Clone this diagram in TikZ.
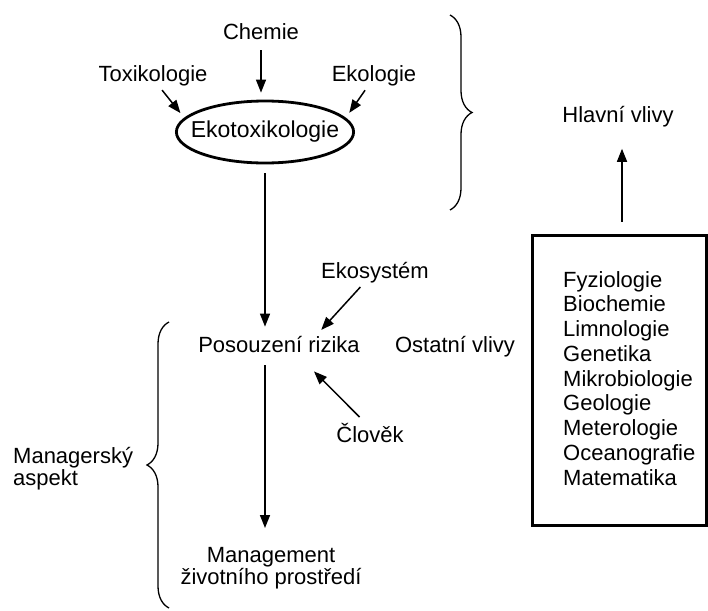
\documentclass[tikz,border=0pt]{standalone}
\usepackage{fontspec}
\setmainfont{Liberation Sans}
\usetikzlibrary{arrows.meta,shapes.geometric,decorations.pathreplacing}
\begin{document}
\begin{tikzpicture}[x=1pt,y=-1pt]
  \useasboundingbox (0,0) rectangle (708,610);

  \tikzstyle{word}=[inner sep=2pt, font=\fontsize{22}{22}\selectfont]
  \tikzstyle{link}=[line width=1.5pt, -{Triangle[length=13pt,width=10pt]}]
  \tikzstyle{klammer}=[line width=1.3pt, decorate, decoration={brace, amplitude=22pt}]

  % Obere Ebene.
  \node[word, anchor=base] (chemie) at (261, 40) {Chemie};
  \node[word, anchor=base] (toxi) at (153, 81) {Toxikologie};
  \node[word, anchor=base] (eko) at (374, 81) {Ekologie};
  \node[word, ellipse, draw, line width=2.8pt, inner xsep=-11.5pt, font=\fontsize{23}{23}\selectfont,
        minimum height=62pt] (ekotox) at (265, 132) {Ekotoxikologie};

  \draw[link, shorten <=8pt, shorten >=7pt] (chemie.south) -- (chemie.south |- ekotox.north);
  \draw[link, shorten <=3pt, shorten >=6pt] (toxi.-60) -- (ekotox.170);
  \draw[link, shorten <=3pt, shorten >=6pt] (eko.-120) -- (ekotox.10);

  % Risiko.
  \node[word, anchor=base] (riziko) at (279, 352) {Posouzení rizika};
  \node[word, anchor=base] (ekosys) at (375, 278) {Ekosystém};
  \node[word, anchor=base] (clovek) at (370, 442) {Člověk};
  \node[word, anchor=base] (ostatni) at (455, 352) {Ostatní vlivy};
  \node[word, anchor=north, align=center] (management) at (271, 545) {Management\\životního prostředí};

  \draw[link, shorten <=9pt, shorten >=7pt] (ekotox.south) -- (ekotox.south |- riziko.north);
  \draw[link, shorten <=11pt, shorten >=17pt] (ekotox.south |- riziko.south) -- (ekotox.south |- management.north);
  \draw[link, shorten <=3pt, shorten >=5pt] (ekosys.-135) -- (riziko.15);
  \draw[link, shorten <=5pt, shorten >=24pt] (clovek.120) -- (riziko.-30);

  % Klammern.
  \draw[klammer] (450, 15) -- (450, 210);
  \draw[klammer] (169, 608) -- (169, 322);
  \node[word, anchor=north west, align=left] (manager) at (11, 445) {Managerský\\aspekt};

  % Weitere Fächer.
  \node[word, anchor=base] (hlavni) at (618, 122) {Hlavní vlivy};
  \node[draw, line width=3pt, minimum width=174pt, minimum height=290pt, inner sep=0pt] (obory) at (619, 380) {};
  \node[word, anchor=north west, align=left, inner sep=0pt, font=\fontsize{22}{24.75}\selectfont] (liste) at (563, 271)
    {Fyziologie\\Biochemie\\Limnologie\\Genetika\\Mikrobiologie\\Geologie\\Meterologie\\Oceanografie\\Matematika};

  \draw[link, shorten <=12pt, shorten >=20pt] (obory.north -| 622, 0) -- (hlavni.south -| 622, 0);
\end{tikzpicture}
\end{document}
